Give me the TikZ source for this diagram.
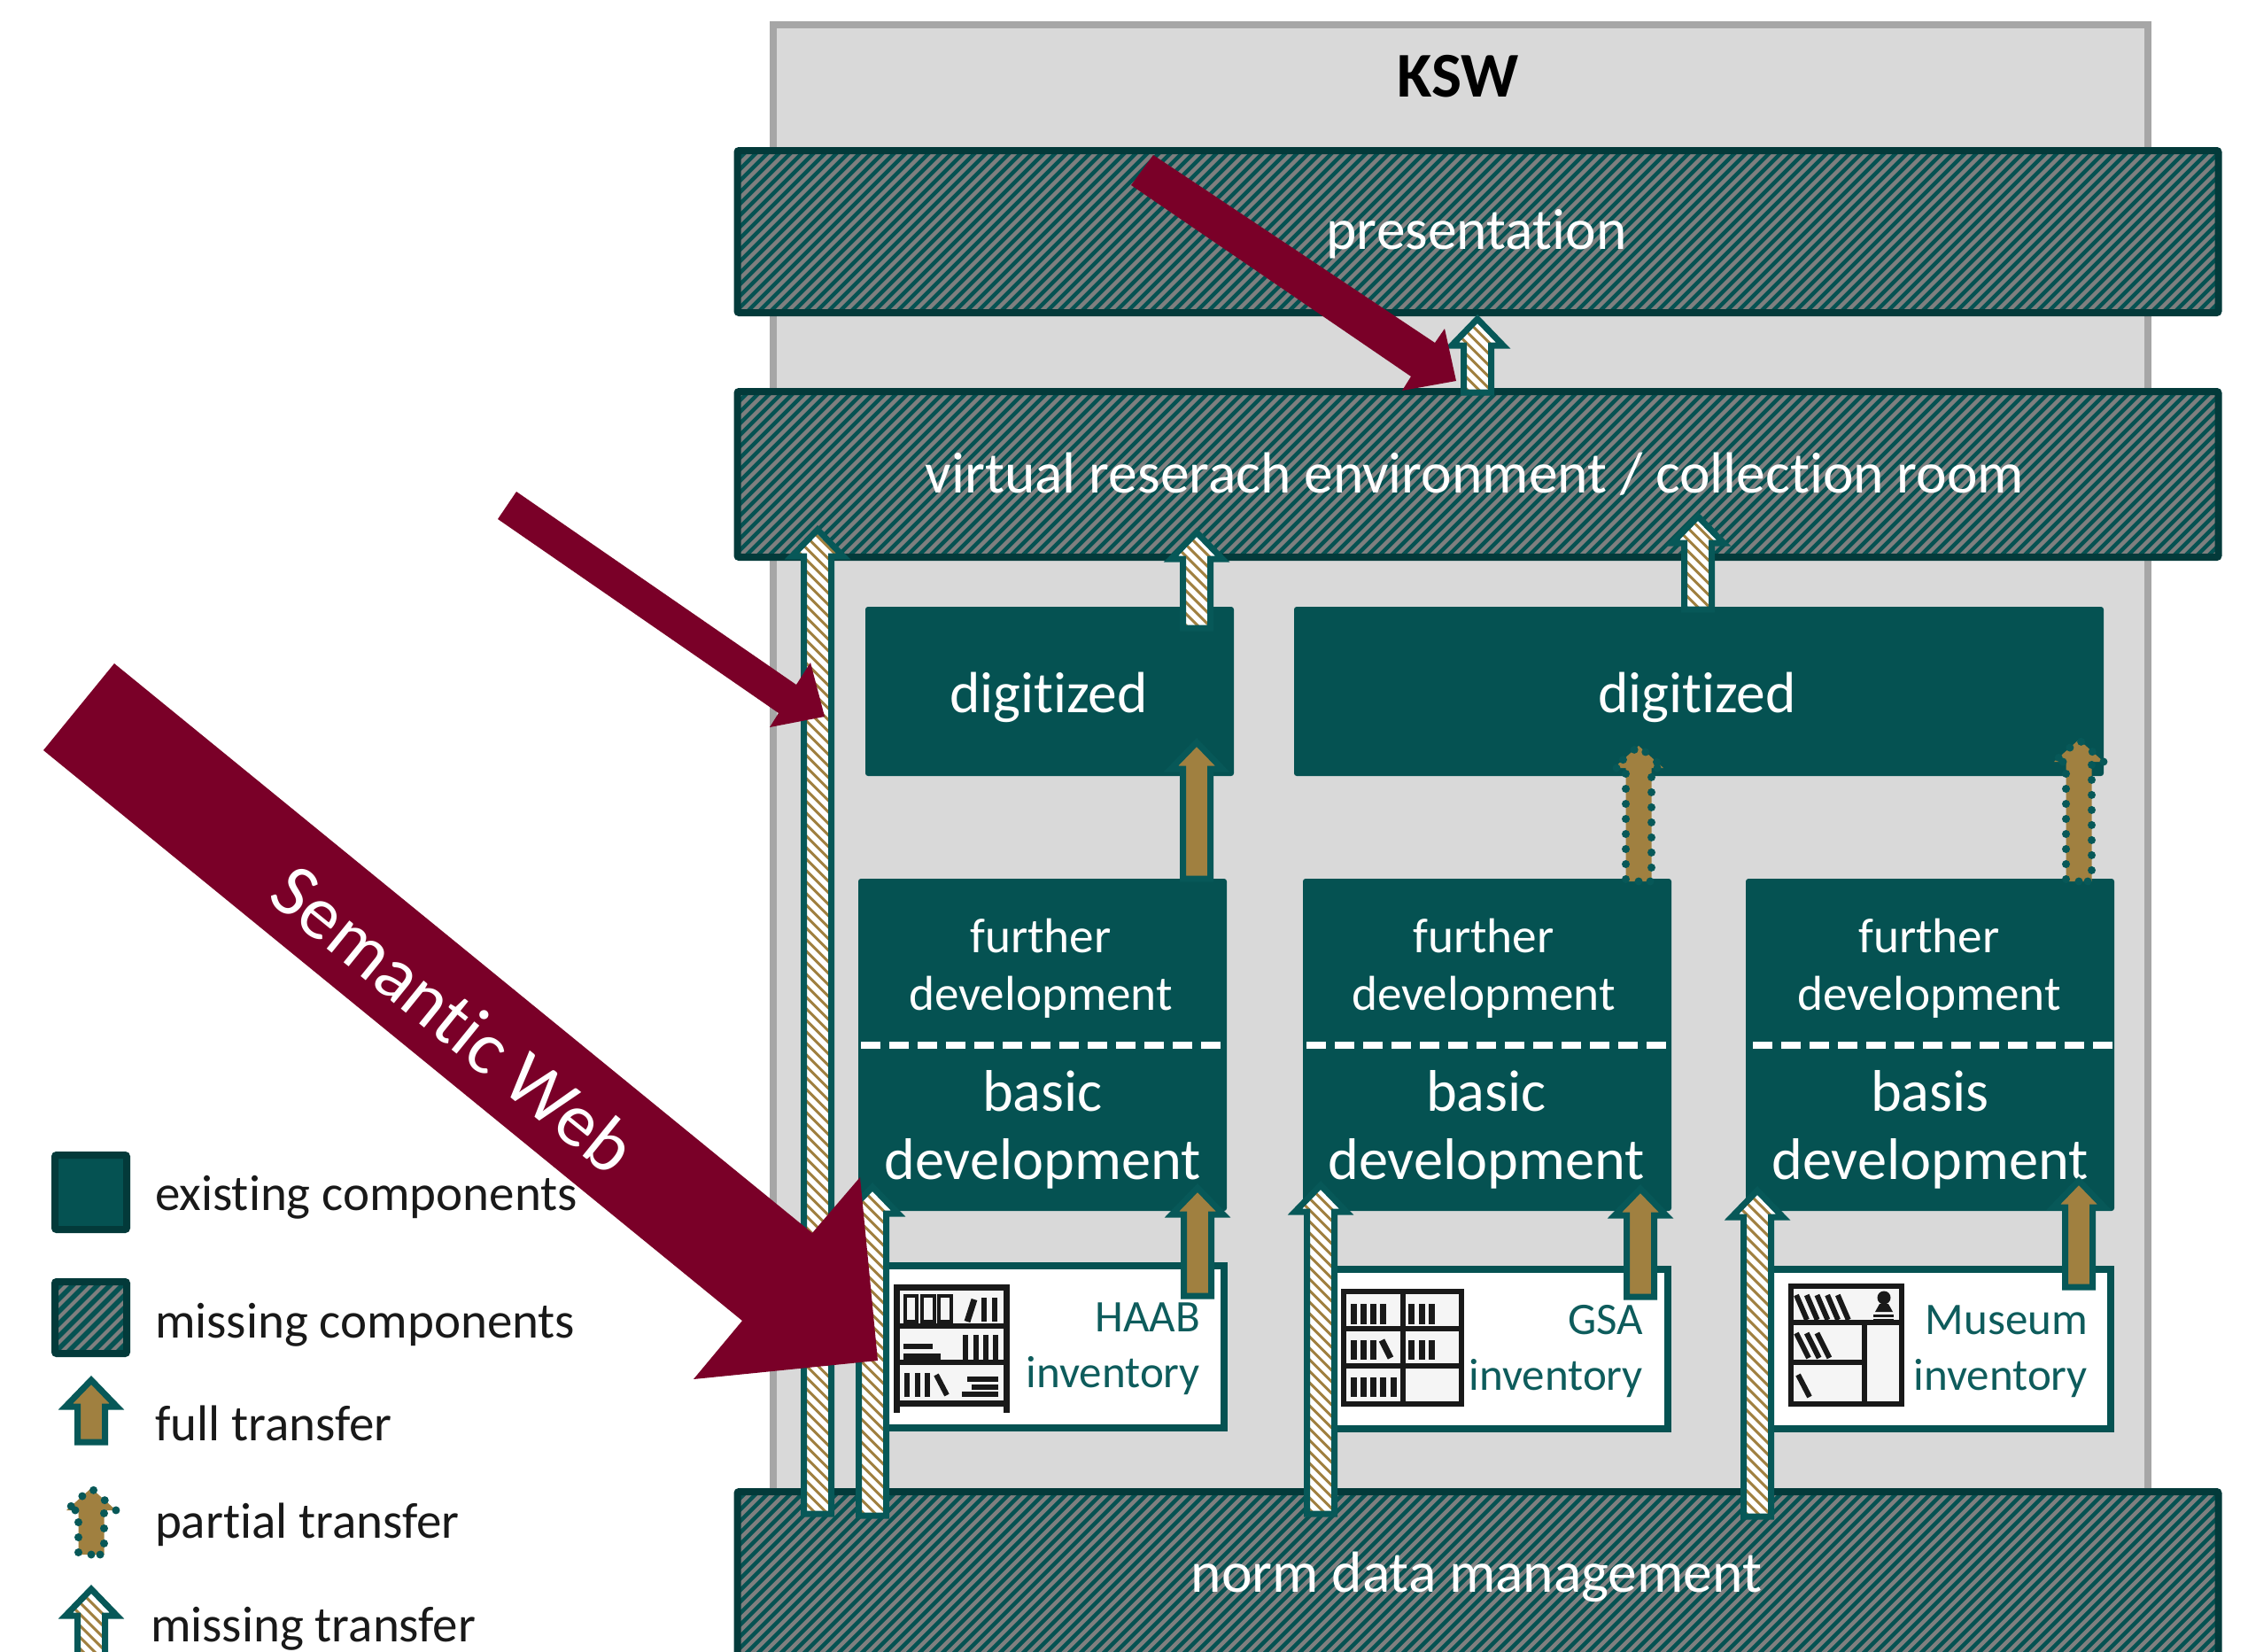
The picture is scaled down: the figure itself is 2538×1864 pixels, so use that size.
\documentclass[tikz,border=0pt]{standalone}
\usepackage{fontspec}
\setmainfont[Ligatures=NoCommon]{Carlito}
\usetikzlibrary{calc}
\definecolor{teal1}{HTML}{055252}
\definecolor{tealb}{HTML}{033A3A}
\definecolor{teala}{HTML}{075858}
\definecolor{hatchgray}{HTML}{7F7F7F}
\definecolor{tan1}{HTML}{A08040}
\definecolor{wine}{HTML}{7A0028}
\definecolor{panel}{HTML}{D9D9D9}
\definecolor{panelb}{HTML}{A6A6A6}
\definecolor{invtext}{HTML}{0E5C5C}
\definecolor{shelf}{HTML}{F5F5F5}
\newcommand{\fs}[1]{\fontsize{#1}{#1}\selectfont}
\tikzset{
  box/.style={rectangle,inner sep=0pt,outer sep=0pt},
  existing/.style={box,fill=teal1,rounded corners=3pt},
  missing/.style={box,draw=tealb,line width=8pt,fill=teal1,rounded corners=2pt,
    path picture={\foreach \i in {-1300,-1287,...,1300}{
      \draw[hatchgray,line width=4.5pt]
        ([shift={(\i-300,300)}]path picture bounding box.center) --
        ([shift={(\i+300,-300)}]path picture bounding box.center);}}},
  legendmissing/.style={box,draw=tealb,line width=8pt,fill=teal1,rounded corners=2pt,
    path picture={\foreach \i in {-120,-106,...,120}{
      \draw[hatchgray,line width=4pt]
        ([shift={(\i-60,60)}]path picture bounding box.center) --
        ([shift={(\i+60,-60)}]path picture bounding box.center);}}},
  invbox/.style={box,draw=teal1,line width=8pt,fill=white},
  ba/.style n args={3}{to path={let \p1=(\tikztostart),\p2=(\tikztotarget) in
     -- (\x1-#1,\y1) -- (\x1-#1,\y2-#3) -- (\x1-#2,\y2-#3) -- (\x2,\y2)
     -- (\x1+#2,\y2-#3) -- (\x1+#1,\y2-#3) -- (\x1+#1,\y1) -- cycle}},
  fullarrow/.style={ba={15.5pt}{29pt}{30pt},draw=teala,line width=7pt,fill=tan1,line join=miter},
  partarrow/.style={ba={14.5pt}{28pt}{25pt},draw=teala,line width=9pt,fill=tan1,line cap=round,dash pattern=on 0pt off 17pt},
  missarrow/.style={ba={15.5pt}{29pt}{30pt},draw=teala,line width=7pt,fill=white,line join=miter,
    path picture={\foreach \i in {-700,-687,...,700}{
      \draw[tan1,line width=3pt]
        ([shift={(\i-700,-700)}]path picture bounding box.center) --
        ([shift={(\i+700,700)}]path picture bounding box.center);}}},
  wineshape/.style={fill=wine,draw=none},
  lbl/.style={anchor=base,inner sep=0pt,outer sep=0pt,text=white,align=center},
  inv/.style={anchor=base east,inner sep=0pt,outer sep=0pt,text=invtext,font=\fs{51},align=right},
  leg/.style={anchor=base west,inner sep=0pt,outer sep=0pt,text=black!90,font=\fs{57}},
  sep/.style={white,line width=8pt,dash pattern=on 22pt off 10pt},
  ink/.style={black!90,line width=6pt},
  iconbg/.style={fill=shelf,draw=none},
}
\begin{document}
\begin{tikzpicture}[x=1pt,y=-1pt]
\clip (0,0) rectangle (2538,1864);
\fill[white] (0,0) rectangle (2538,1864);

% KSW panel
\node[box,draw=panelb,fill=panel,line width=8pt,minimum width=1552pt,minimum height=1700pt] (ksw) at (1649,878) {};
\node[anchor=base,inner sep=0pt,font=\fs{72}\bfseries,text=black] (kswt) at (1646,109) {KSW};

% layers
\node[missing,minimum width=1672pt,minimum height=183pt] (pres) at (1668.5,261.5) {};
\node[missing,minimum width=1672pt,minimum height=187pt] (vre) at (1668.5,535.5) {};
\node[missing,minimum width=1672pt,minimum height=260pt] (norm) at (1668.5,1814) {};
\node[lbl,font=\fs{65.5}] (prest) at (1667,281) {presentation};
\node[lbl,font=\fs{65.5}] (vret) at (1665,556) {virtual reserach environment / collection room};
\node[lbl,font=\fs{65.5}] (normt) at (1667,1797) {norm data management};

% digitized
\node[existing,minimum width=416pt,minimum height=191pt] (dig1) at (1185,780.5) {};
\node[existing,minimum width=914pt,minimum height=191pt] (dig2) at (1918,780.5) {};
\node[lbl,font=\fs{65.5}] (dig1t) at (1184,804) {digitized};
\node[lbl,font=\fs{65.5}] (dig2t) at (1916,804) {digitized};

% development blocks
\node[existing,minimum width=416pt,minimum height=375pt] (dev1) at (1177,1179.5) {};
\node[existing,minimum width=416pt,minimum height=375pt] (dev2) at (1679,1179.5) {};
\node[existing,minimum width=416pt,minimum height=375pt] (dev3) at (2179,1179.5) {};
\node[lbl,font=\fs{55.3}] (f1a) at (1175,1075) {further};
\node[lbl,font=\fs{55.3}] (f1b) at (1175,1140) {development};
\node[lbl,font=\fs{55.3}] (f2a) at (1675,1075) {further};
\node[lbl,font=\fs{55.3}] (f2b) at (1675,1140) {development};
\node[lbl,font=\fs{55.3}] (f3a) at (2178,1075) {further};
\node[lbl,font=\fs{55.3}] (f3b) at (2178,1140) {development};
\node[lbl,font=\fs{66.3}] (b1a) at (1177,1254) {basic};
\node[lbl,font=\fs{66.3}] (b1b) at (1177,1331) {development};
\node[lbl,font=\fs{66.3}] (b2a) at (1678,1254) {basic};
\node[lbl,font=\fs{66.3}] (b2b) at (1678,1331) {development};
\node[lbl,font=\fs{66.3}] (b3a) at (2179,1254) {basis};
\node[lbl,font=\fs{66.3}] (b3b) at (2179,1331) {development};
\coordinate (s1a) at (972,1180); \coordinate (s1b) at (1386,1180);
\coordinate (s2a) at (1475,1180); \coordinate (s2b) at (1887,1180);
\coordinate (s3a) at (1979,1180); \coordinate (s3b) at (2388,1180);
\draw[sep] (s1a) -- (s1b);
\draw[sep] (s2a) -- (s2b);
\draw[sep] (s3a) -- (s3b);

% inventories
\node[invbox,minimum width=382pt,minimum height=183pt] (inv1) at (1191,1520.5) {};
\node[invbox,minimum width=378pt,minimum height=180pt] (inv2) at (1694,1523) {};
\node[invbox,minimum width=384pt,minimum height=180pt] (inv3) at (2191,1523) {};
\node[inv] (i1a) at (1355,1503) {HAAB};
\node[inv] (i1b) at (1355,1566) {inventory};
\node[inv] (i2a) at (1855,1506) {GSA};
\node[inv] (i2b) at (1855,1569) {inventory};
\node[inv] (i3a) at (2357,1506) {Museum};
\node[inv] (i3b) at (2357,1569) {inventory};

% icon 1
\fill[iconbg] (1012,1453) rectangle (1136,1584);
\draw[ink,line width=7pt] (1012,1595) -- (1012,1453) -- (1136,1453) -- (1136,1595);
\draw[ink] (1012,1497) -- (1136,1497);
\draw[ink] (1012,1538) -- (1136,1538);
\draw[ink,line width=7pt] (1012,1584) -- (1136,1584);
\draw[ink,line width=4pt] (1022,1463) rectangle (1035,1492);
\draw[ink,line width=4pt] (1041,1463) rectangle (1055,1492);
\draw[ink,line width=4pt] (1060,1463) rectangle (1074,1492);
\draw[ink,line width=7pt] (1100,1467) -- (1092,1492);
\foreach \x in {1111,1123}{\draw[ink] (\x,1465) -- (\x,1492);}
\draw[ink] (1020,1520) -- (1053,1520);
\draw[ink,line width=7pt] (1020,1531) -- (1062,1531);
\foreach \x in {1090,1102,1113,1124}{\draw[ink] (\x,1507) -- (\x,1535);}
\foreach \x in {1024,1036,1047}{\draw[ink] (\x,1550) -- (\x,1577);}
\draw[ink] (1057,1552) -- (1069,1575);
\draw[ink] (1092,1557) -- (1127,1557);
\draw[ink] (1097,1566) -- (1127,1566);
\draw[ink] (1086,1574) -- (1127,1574);

% icon 2
\fill[iconbg] (1517,1458) rectangle (1650,1585);
\draw[ink] (1517,1458) rectangle (1650,1585);
\draw[ink] (1584,1458) -- (1584,1585);
\draw[ink] (1517,1500) -- (1650,1500);
\draw[ink] (1517,1542) -- (1650,1542);
\foreach \x in {1528,1539,1550,1561,1593,1605,1616}{\draw[ink,line width=7pt] (\x,1472) -- (\x,1495);}
\foreach \x in {1528,1539,1550,1593,1605,1616}{\draw[ink,line width=7pt] (\x,1513) -- (\x,1535);}
\draw[ink,line width=7pt] (1560,1513) -- (1570,1533);
\foreach \x in {1528,1539,1550,1561,1573}{\draw[ink,line width=7pt] (\x,1555) -- (\x,1577);}

% icon 3
\fill[iconbg] (2022,1452) rectangle (2147,1585);
\draw[ink] (2022,1452) rectangle (2147,1585);
\draw[ink] (2022,1493) -- (2147,1493);
\draw[ink] (2105,1493) -- (2105,1585);
\draw[ink] (2022,1538) -- (2105,1538);
\foreach \d in {0,11.7,23.4,35.1,46.8}{\draw[ink] (2028+\d,1462) -- (2040+\d,1490);}
\foreach \d in {0,11.7,23.4}{\draw[ink] (2028+\d,1505) -- (2042+\d,1533);}
\draw[ink] (2030,1552) -- (2043,1577);
\fill[black!90] (2127,1465) circle (7.5pt);
\fill[black!90] (2117,1481) -- (2122,1472) -- (2132,1472) -- (2137,1481) -- cycle;
\draw[ink,line width=3pt] (2115,1485) -- (2138,1485);
\draw[ink,line width=3pt] (2115,1490) -- (2138,1490);

% missing transfers
\coordinate (mAs) at (1668,443);  \coordinate (mAt) at (1668,360);
\coordinate (mBs) at (923,1709);  \coordinate (mBt) at (923,598);
\coordinate (mCs) at (1351,709);  \coordinate (mCt) at (1351,601);
\coordinate (mDs) at (1917,688);  \coordinate (mDt) at (1917,583);
\coordinate (mEs) at (985,1711);  \coordinate (mEt) at (985,1340);
\coordinate (mFs) at (1491,1709); \coordinate (mFt) at (1491,1338);
\coordinate (mGs) at (1984,1712); \coordinate (mGt) at (1984,1344);
\foreach \a in {A,B,C,D,E,F,G}{\draw[missarrow] (m\a s) to (m\a t);}

% full transfers
\coordinate (fAs) at (1352,1463); \coordinate (fAt) at (1352,1341);
\coordinate (fBs) at (1852,1464); \coordinate (fBt) at (1852,1342);
\coordinate (fCs) at (2347,1453); \coordinate (fCt) at (2347,1333);
\coordinate (fDs) at (1351,992);  \coordinate (fDt) at (1351,838);
\foreach \a in {A,B,C,D}{\draw[fullarrow] (f\a s) to (f\a t);}

% partial transfers
\coordinate (pAs) at (1850,995);  \coordinate (pAt) at (1850,842);
\coordinate (pBs) at (2347,995);  \coordinate (pBt) at (2347,835);
\foreach \a in {A,B}{\draw[partarrow] (p\a s) to (p\a t);}

% Semantic Web arrows
\fill[wineshape] (129,749) -- (917,1392) -- (971,1329) -- (991,1536) -- (783,1557) -- (838,1491) -- (49,847) -- cycle;
\node[anchor=center,inner sep=0pt,text=white,font=\fs{85.5},rotate=-39] (sw) at (513,1150) {Semantic Web};
\fill[wineshape] (583,555) -- (899,773) -- (915,748) -- (931,809) -- (869,821) -- (879,805) -- (562,586) -- cycle;
\fill[wineshape] (1302,175) -- (1620,387) -- (1631,371) -- (1644,430) -- (1583,441) -- (1593,425) -- (1277,209) -- cycle;

% legend
\node[box,draw=tealb,fill=teal1,line width=8pt,rounded corners=2pt,minimum width=81pt,minimum height=84pt] (l1) at (102.5,1346) {};
\node[legendmissing,minimum width=81pt,minimum height=81pt] (l2) at (102.5,1487.5) {};
\coordinate (l3s) at (103,1628); \coordinate (l3t) at (103,1558);
\coordinate (l4s) at (103,1755); \coordinate (l4t) at (103,1680);
\coordinate (l5s) at (103,1880); \coordinate (l5t) at (103,1794);
\draw[fullarrow] (l3s) to (l3t);
\draw[partarrow] (l4s) to (l4t);
\draw[missarrow] (l5s) to (l5t);
\node[leg] (lt1) at (175,1366) {existing components};
\node[leg] (lt2) at (175,1510) {missing components};
\node[leg] (lt3) at (175,1626) {full transfer};
\node[leg] (lt4) at (175,1736) {partial transfer};
\node[leg] (lt5) at (170,1853) {missing transfer};
\end{tikzpicture}
\end{document}
